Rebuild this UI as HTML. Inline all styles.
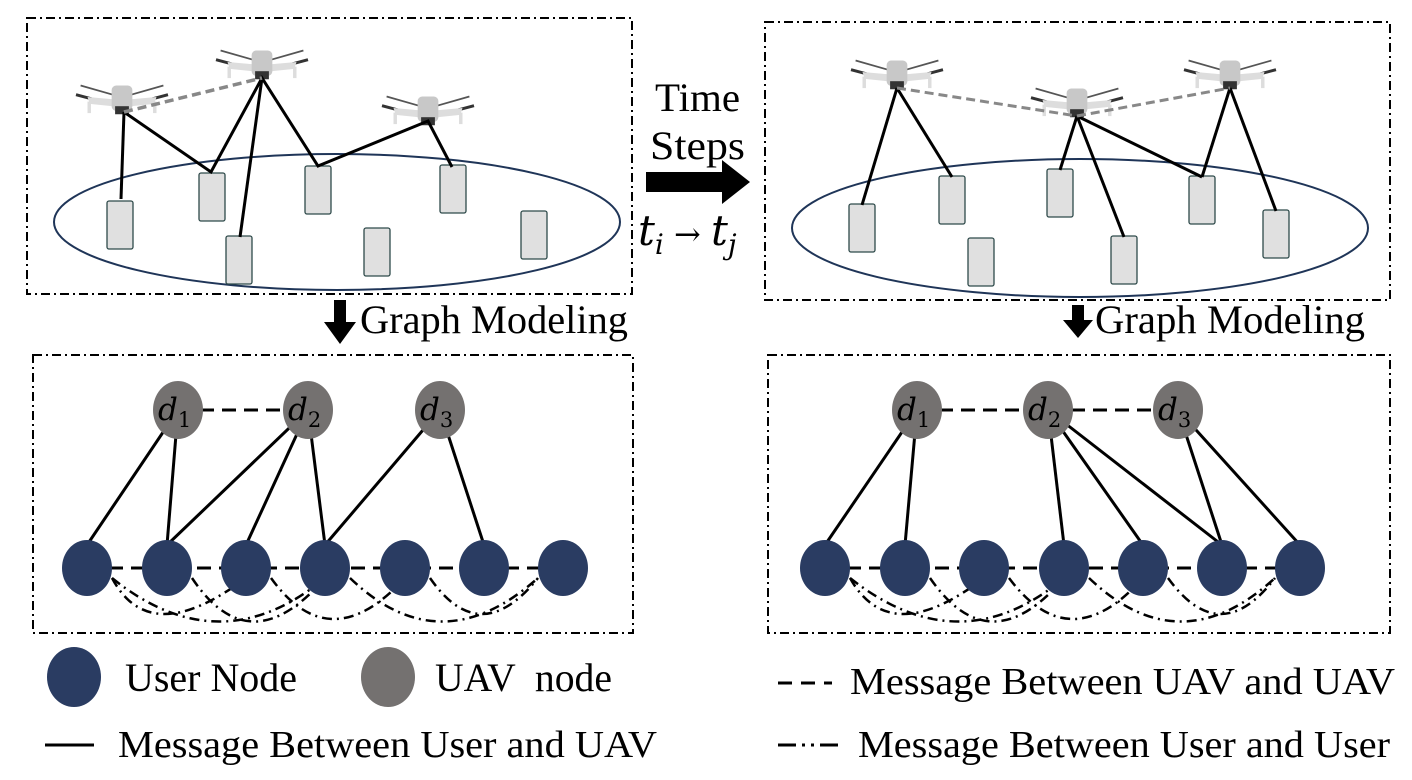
<!DOCTYPE html>
<html><head><meta charset="utf-8"><style>
html,body{margin:0;padding:0;background:#fff;}
svg{display:block;}
text{font-family:"Liberation Serif",serif;fill:#000;}
.m{font-family:"DejaVu Serif","Liberation Serif",serif;font-style:italic;}
</style></head><body>
<svg width="1412" height="780" viewBox="0 0 1412 780" xmlns="http://www.w3.org/2000/svg">
<defs>
<g id="drone" transform="scale(1.15)">
 <line x1="-36" y1="-10" x2="-8" y2="-2" stroke="#555" stroke-width="1.5"/>
 <line x1="36" y1="-10" x2="8" y2="-2" stroke="#555" stroke-width="1.5"/>
 <line x1="-40" y1="-2" x2="-10" y2="6" stroke="#333" stroke-width="2.5"/>
 <line x1="40" y1="-2" x2="10" y2="6" stroke="#333" stroke-width="2.5"/>
 <path d="M-30 0 L-8 2 L-8 8 L-28 6 Z" fill="#ddd"/>
 <path d="M30 0 L8 2 L8 8 L28 6 Z" fill="#ddd"/>
 <rect x="-30" y="4" width="3" height="10" fill="#ddd"/>
 <rect x="27" y="4" width="3" height="10" fill="#ddd"/>
 <rect x="-9" y="-10" width="18" height="22" rx="4" fill="#c8c8c8"/>
 <rect x="-6" y="8" width="12" height="7" fill="#333"/>
</g>
<g id="phone">
 <rect x="-13" y="-24" width="26" height="48" rx="2" fill="#e0e0e0" stroke="#2e4a4a" stroke-width="1.3"/>
</g>
</defs>

<rect x="27" y="18" width="605" height="276" fill="none" stroke="#000" stroke-width="2" stroke-dasharray="9,4,2,4"/>
<ellipse cx="337" cy="222" rx="283" ry="68" fill="none" stroke="#1f3558" stroke-width="2"/>
<use href="#phone" x="120" y="225"/>
<use href="#phone" x="212" y="197"/>
<use href="#phone" x="239" y="260"/>
<use href="#phone" x="318" y="190"/>
<use href="#phone" x="377" y="252"/>
<use href="#phone" x="453" y="189"/>
<use href="#phone" x="534" y="235"/>
<use href="#drone" x="122" y="97"/>
<use href="#drone" x="262" y="62"/>
<use href="#drone" x="428" y="108"/>
<g stroke="#000" stroke-width="3" fill="none">
 <line x1="124" y1="112" x2="121" y2="199"/>
 <polyline points="124,112 211,172 262,78 318,166 428,121 452,167"/>
 <line x1="262" y1="78" x2="240" y2="237"/>
</g>
<line x1="124" y1="112" x2="262" y2="78" stroke="#888" stroke-width="3.5" stroke-dasharray="9,5"/>

<text x="655" y="111" font-size="40" textLength="85" lengthAdjust="spacingAndGlyphs">Time</text>
<text x="650" y="159" font-size="40" textLength="95" lengthAdjust="spacingAndGlyphs">Steps</text>
<path d="M646 172 L722 172 L722 160 L750 182 L722 204 L722 192 L646 192 Z" fill="#000"/>
<text x="638" y="245" font-size="42" class="m">t<tspan font-size="28" dy="9">i</tspan><tspan dy="-9" font-style="normal" font-size="32"> → </tspan>t<tspan font-size="28" dy="9">j</tspan></text>

<rect x="765" y="22" width="625" height="278" fill="none" stroke="#000" stroke-width="2" stroke-dasharray="9,4,2,4"/>
<ellipse cx="1080" cy="228" rx="288" ry="69" fill="none" stroke="#1f3558" stroke-width="2"/>
<use href="#phone" x="862" y="228"/>
<use href="#phone" x="952" y="200"/>
<use href="#phone" x="981" y="262"/>
<use href="#phone" x="1060" y="193"/>
<use href="#phone" x="1124" y="260"/>
<use href="#phone" x="1202" y="200"/>
<use href="#phone" x="1276" y="234"/>
<use href="#drone" x="897" y="72"/>
<use href="#drone" x="1077" y="100"/>
<use href="#drone" x="1230" y="72"/>
<g stroke="#000" stroke-width="3" fill="none">
 <line x1="897" y1="88" x2="862" y2="205"/>
 <line x1="897" y1="88" x2="952" y2="177"/>
 <line x1="1077" y1="116" x2="1060" y2="170"/>
 <line x1="1077" y1="116" x2="1124" y2="237"/>
 <line x1="1077" y1="116" x2="1202" y2="177"/>
 <line x1="1230" y1="88" x2="1202" y2="177"/>
 <line x1="1230" y1="88" x2="1276" y2="211"/>
</g>
<line x1="897" y1="88" x2="1077" y2="116" stroke="#888" stroke-width="3" stroke-dasharray="9,5"/>
<line x1="1077" y1="116" x2="1230" y2="88" stroke="#888" stroke-width="3" stroke-dasharray="9,5"/>

<path d="M334 300 L346 300 L346 322 L356 322 L340 344 L324 322 L334 322 Z" fill="#000"/>
<text x="360" y="333" font-size="40" textLength="268" lengthAdjust="spacingAndGlyphs">Graph Modeling</text>
<path d="M1072 305 L1084 305 L1084 320 L1093 320 L1078 338 L1063 320 L1072 320 Z" fill="#000"/>
<text x="1095" y="333" font-size="40" textLength="270" lengthAdjust="spacingAndGlyphs">Graph Modeling</text>

<rect x="33" y="355" width="600" height="278" fill="none" stroke="#000" stroke-width="2" stroke-dasharray="9,4,2,4"/>
<g stroke="#000" stroke-width="3">
 <line x1="178" y1="410" x2="87" y2="545"/>
 <line x1="178" y1="410" x2="167" y2="545"/>
 <line x1="308" y1="410" x2="167" y2="545"/>
 <line x1="308" y1="410" x2="246" y2="545"/>
 <line x1="308" y1="410" x2="325" y2="545"/>
 <line x1="440" y1="410" x2="325" y2="545"/>
 <line x1="440" y1="410" x2="484" y2="545"/>
 <line x1="178" y1="410" x2="308" y2="410" stroke-dasharray="14,8"/>
 <line x1="87" y1="568" x2="563" y2="568" stroke-dasharray="14,8"/>
</g>
<g fill="none" stroke="#000" stroke-width="2.5" stroke-dasharray="10,5,2,5">
 <path d="M112 578 Q150 650 246 578"/>
 <path d="M112 578 Q220 665 325 578"/>
 <path d="M192 578 Q250 665 325 578"/>
 <path d="M271 578 Q330 660 405 578"/>
 <path d="M350 578 Q440 665 538 578"/>
 <path d="M430 578 Q480 650 538 578"/>
</g>
<g fill="#2a3c62">
 <ellipse cx="87" cy="568" rx="25" ry="28"/><ellipse cx="167" cy="568" rx="25" ry="28"/><ellipse cx="246" cy="568" rx="25" ry="28"/><ellipse cx="325" cy="568" rx="25" ry="28"/><ellipse cx="405" cy="568" rx="25" ry="28"/><ellipse cx="484" cy="568" rx="25" ry="28"/><ellipse cx="563" cy="568" rx="25" ry="28"/>
</g>
<g fill="#747170">
 <ellipse cx="178" cy="410" rx="25" ry="29"/><ellipse cx="308" cy="410" rx="25" ry="29"/><ellipse cx="440" cy="410" rx="25" ry="29"/>
</g>
<g font-size="31">
 <text x="158" y="420" class="m">d<tspan font-size="21" dy="7" font-style="normal">1</tspan></text>
 <text x="288" y="420" class="m">d<tspan font-size="21" dy="7" font-style="normal">2</tspan></text>
 <text x="420" y="420" class="m">d<tspan font-size="21" dy="7" font-style="normal">3</tspan></text>
</g>

<rect x="768" y="355" width="622" height="278" fill="none" stroke="#000" stroke-width="2" stroke-dasharray="9,4,2,4"/>
<g stroke="#000" stroke-width="3">
 <line x1="917" y1="410" x2="825" y2="545"/>
 <line x1="917" y1="410" x2="905" y2="545"/>
 <line x1="1048" y1="410" x2="1064" y2="545"/>
 <line x1="1048" y1="410" x2="1143" y2="545"/>
 <line x1="1048" y1="410" x2="1222" y2="545"/>
 <line x1="1178" y1="410" x2="1222" y2="545"/>
 <line x1="1178" y1="410" x2="1300" y2="545"/>
 <line x1="917" y1="410" x2="1178" y2="410" stroke-dasharray="14,8"/>
 <line x1="825" y1="568" x2="1300" y2="568" stroke-dasharray="14,8"/>
</g>
<g fill="none" stroke="#000" stroke-width="2.5" stroke-dasharray="10,5,2,5">
 <path d="M850 578 Q890 650 984 578"/>
 <path d="M850 578 Q960 665 1064 578"/>
 <path d="M930 578 Q990 665 1064 578"/>
 <path d="M1009 578 Q1070 660 1143 578"/>
 <path d="M1089 578 Q1180 665 1275 578"/>
 <path d="M1168 578 Q1220 650 1275 578"/>
</g>
<g fill="#2a3c62">
 <ellipse cx="825" cy="568" rx="25" ry="28"/><ellipse cx="905" cy="568" rx="25" ry="28"/><ellipse cx="984" cy="568" rx="25" ry="28"/><ellipse cx="1064" cy="568" rx="25" ry="28"/><ellipse cx="1143" cy="568" rx="25" ry="28"/><ellipse cx="1222" cy="568" rx="25" ry="28"/><ellipse cx="1300" cy="568" rx="25" ry="28"/>
</g>
<g fill="#747170">
 <ellipse cx="917" cy="410" rx="25" ry="29"/><ellipse cx="1048" cy="410" rx="25" ry="29"/><ellipse cx="1178" cy="410" rx="25" ry="29"/>
</g>
<g font-size="31">
 <text x="897" y="420" class="m">d<tspan font-size="21" dy="7" font-style="normal">1</tspan></text>
 <text x="1028" y="420" class="m">d<tspan font-size="21" dy="7" font-style="normal">2</tspan></text>
 <text x="1158" y="420" class="m">d<tspan font-size="21" dy="7" font-style="normal">3</tspan></text>
</g>

<ellipse cx="74" cy="677" rx="27" ry="30" fill="#2a3c62"/>
<text x="125" y="691" font-size="40" textLength="172" lengthAdjust="spacingAndGlyphs">User Node</text>
<ellipse cx="388" cy="677" rx="27" ry="30" fill="#747170"/>
<text x="435" y="691" font-size="40" textLength="177" lengthAdjust="spacingAndGlyphs" xml:space="preserve">UAV  node</text>
<line x1="45" y1="745" x2="94" y2="745" stroke="#000" stroke-width="3"/>
<text x="118" y="757" font-size="38" textLength="539" lengthAdjust="spacingAndGlyphs">Message Between User and UAV</text>
<line x1="778" y1="683" x2="832" y2="683" stroke="#000" stroke-width="3" stroke-dasharray="14,9"/>
<text x="850" y="694" font-size="38" textLength="545" lengthAdjust="spacingAndGlyphs">Message Between UAV and UAV</text>
<line x1="778" y1="745" x2="842" y2="745" stroke="#000" stroke-width="3" stroke-dasharray="18,6,3,6,3,6"/>
<text x="858" y="757" font-size="38" textLength="532" lengthAdjust="spacingAndGlyphs">Message Between User and User</text>
</svg>
</body></html>
